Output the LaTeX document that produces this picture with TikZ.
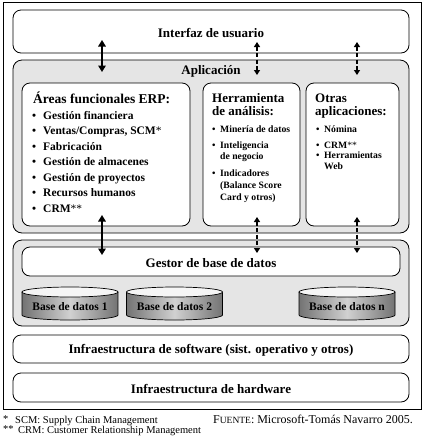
\documentclass[tikz,border=0pt]{standalone}
\usepackage{fontspec}
\setmainfont{Liberation Serif}
\usepackage{xcolor}
\usetikzlibrary{arrows.meta}

\tikzset{
  box/.style={draw, rounded corners=8pt, fill=white, line width=0.8pt, inner sep=0pt},
  graybox/.style={draw, rounded corners=9pt, fill=black!10, line width=0.8pt, inner sep=0pt},
  lbl/.style={inner sep=0pt, font=\fontsize{13}{15}\selectfont\bfseries},
  ttl/.style={anchor=base west, inner sep=0pt, align=left, font=\fontsize{13}{12.8}\selectfont\bfseries},
  itm/.style={anchor=mid west, inner sep=0pt, font=\fontsize{11.5}{13}\selectfont\bfseries},
  sitm/.style={anchor=mid west, inner sep=0pt, font=\fontsize{9.7}{11}\selectfont\bfseries},
  dblbl/.style={inner sep=0pt, font=\fontsize{11.5}{13}\selectfont\bfseries},
  foot/.style={anchor=mid west, inner sep=0pt, font=\fontsize{10.5}{12}\selectfont},
  bigarrow/.style={line width=2.2pt, {Triangle[width=7.5pt,length=6.5pt]}-{Triangle[width=7.5pt,length=6.5pt]}},
  dasharrow/.style={line width=1.3pt, dash pattern=on 4pt off 2.5pt, {Triangle[width=6pt,length=5pt]}-{Triangle[width=6pt,length=5pt]}}
}

\begin{document}
\begin{tikzpicture}[x=1pt,y=-1pt]
\useasboundingbox (0,0) rectangle (425,448);
\draw[line width=0.9pt] (3,2) rectangle (421,409);

\node[box, minimum width=396pt, minimum height=43pt] (ui) at (211,31.5) {};
\node[lbl] (uitxt) at (211,33) {Interfaz de usuario};

\node[graybox, minimum width=396pt, minimum height=173pt] (app) at (211,146.5) {};
\node[lbl] (apptxt) at (211,71) {Aplicación};
\node[box, minimum width=168pt, minimum height=143pt] (erp) at (106,154.5) {};
\node[box, minimum width=97pt, minimum height=143pt] (herr) at (251.5,154.5) {};
\node[box, minimum width=93pt, minimum height=143pt] (otras) at (352.5,154.5) {};

\node[ttl, font=\fontsize{13.5}{14}\selectfont\bfseries] (erpttl) at (33,103.5) {Áreas funcionales ERP:};
\foreach \t [count=\i] in {Gestión financiera, {Ventas/Compras, SCM{\mdseries*}}, Fabricación,
  Gestión de almacenes, Gestión de proyectos, Recursos humanos, CRM{\mdseries**}} {
  \node[itm] (erpb\i) at (32,101.5+15.5*\i) {\textbullet};
  \node[itm] (erp\i) at (43,101.5+15.5*\i) {\t};
}

\node[ttl] (herrttl) at (212,115) {Herramienta\\de análisis:};
\node[sitm] (herrb1) at (212,130) {\textbullet};
\node[sitm] (herr1) at (220,130) {Minería de datos};
\node[sitm] (herrb2) at (212,146) {\textbullet};
\node[sitm] (herr2) at (220,146) {Inteligencia};
\node[sitm] (herr2b) at (220,157.5) {de negocio};
\node[sitm] (herrb3) at (212,174) {\textbullet};
\node[sitm] (herr3) at (220,174) {Indicadores};
\node[sitm] (herr3b) at (220,186) {(Balance Score};
\node[sitm] (herr3c) at (220,198) {Card y otros)};

\node[ttl] (otrttl) at (315,115) {Otras\\aplicaciones:};
\node[sitm] (otrb1) at (316,130) {\textbullet};
\node[sitm] (otr1) at (324,130) {Nómina};
\node[sitm] (otrb2) at (316,146) {\textbullet};
\node[sitm] (otr2) at (324,146) {CRM{\mdseries**}};
\node[sitm] (otrb3) at (316,156.5) {\textbullet};
\node[sitm] (otr3) at (324,156.5) {Herramientas};
\node[sitm] (otr3b) at (324,167.5) {Web};

\node[graybox, minimum width=396pt, minimum height=86pt] (gdb) at (211,283) {};
\node[box, minimum width=378pt, minimum height=29pt] (gestor) at (211,261.5) {};
\node[lbl] (gestortxt) at (211,263) {Gestor de base de datos};

\foreach \cx/\n/\t in {70/1/Base de datos 1, 174.5/2/Base de datos 2, 347/n/Base de datos n} {
  \shade[left color=black!55, right color=black!55, middle color=black!18, draw, line width=0.7pt]
    (\cx-48,292) -- (\cx-48,315) arc[start angle=180, end angle=0, x radius=48, y radius=5]
    -- (\cx+48,292) -- cycle;
  \draw[fill=black!4, line width=0.7pt] (\cx,292) ellipse [x radius=48, y radius=5];
  \node[dblbl] (db\n) at (\cx,307) {\t};
}

\node[box, minimum width=396pt, minimum height=28pt] (sw) at (211,349) {};
\node[lbl] (swtxt) at (211,350) {Infraestructura de software (sist. operativo y otros)};
\node[box, minimum width=396pt, minimum height=29pt] (hw) at (211,387.5) {};
\node[lbl] (hwtxt) at (211,388.5) {Infraestructura de hardware};

\coordinate (ua) at (102,40);
\coordinate (ub) at (257,42);
\coordinate (uc) at (357,42);
\coordinate (aa) at (102,72);
\coordinate (ab) at (257,75);
\coordinate (ac) at (357,75);
\coordinate (la) at (102,215);
\coordinate (lb) at (257,217);
\coordinate (lc) at (357,217);
\coordinate (ga) at (102,255);
\coordinate (gb) at (257,253);
\coordinate (gc) at (357,253);
\draw[bigarrow] (ua) -- (aa);
\draw[dasharrow] (ub) -- (ab);
\draw[dasharrow] (uc) -- (ac);
\draw[bigarrow] (la) -- (ga);
\draw[dasharrow] (lb) -- (gb);
\draw[dasharrow] (lc) -- (gc);

\node[foot] (fs1) at (3,420) {*};
\node[foot] (fn1) at (15,421) {SCM: Supply Chain Management};
\node[foot] (fs2) at (3,430) {**};
\node[foot] (fn2) at (18,431) {CRM: Customer Relationship Management};
\node[foot, font=\fontsize{12}{13}\selectfont] (src) at (213,421) {F{\fontsize{9.5}{10}\selectfont UENTE}: Microsoft-Tomás Navarro 2005.};
\end{tikzpicture}
\end{document}
